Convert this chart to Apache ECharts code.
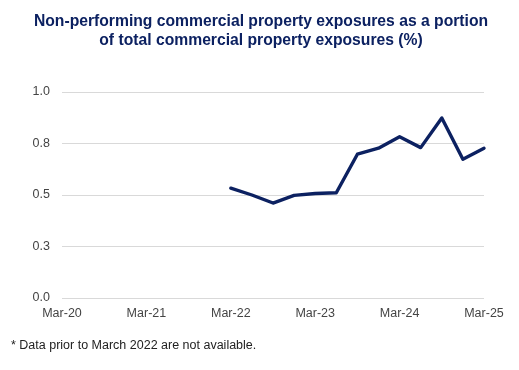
<!DOCTYPE html>
<html>
<head>
<meta charset="utf-8">
<script src="https://cdn.jsdelivr.net/npm/echarts@6/dist/echarts.min.js"></script>
<style>
html,body{margin:0;padding:0;background:#fff;}
#c{width:519px;height:370px;}
</style>
</head>
<body>
<div id="c"></div>
<script>
const categories = [
  "Mar-20","Jun-20","Sep-20","Dec-20",
  "Mar-21","Jun-21","Sep-21","Dec-21",
  "Mar-22","Jun-22","Sep-22","Dec-22",
  "Mar-23","Jun-23","Sep-23","Dec-23",
  "Mar-24","Jun-24","Sep-24","Dec-24",
  "Mar-25"
];
const npRatio = [
  null,null,null,null,
  null,null,null,null,
  0.533,0.500,0.461,0.498,
  0.507,0.511,0.698,0.727,
  0.783,0.730,0.874,0.674,
  0.727
];
const yTicks = { min: 0, max: 1, interval: 0.25 };

const chart = echarts.init(document.getElementById('c'), null, {renderer:'canvas'});
chart.setOption({
  animation: false,
  backgroundColor: '#ffffff',
  title: [{
    text: 'Non-performing commercial property exposures as a portion\nof total commercial property exposures (%)',
    left: 261, top: 12, textAlign: 'center', padding: 0,
    textStyle: { fontFamily: 'Liberation Sans, Arial, sans-serif', fontSize: 15.7, fontWeight: 'bold', color: '#0c2161', lineHeight: 19 }
  },{
    text: '* Data prior to March 2022 are not available.',
    left: 11, top: 339, padding: 0,
    textStyle: { fontFamily: 'Liberation Sans, Arial, sans-serif', fontSize: 12.5, fontWeight: 'normal', color: '#222222' }
  }],
  grid: { left: 62, right: 35, top: 92, bottom: 72, containLabel: false },
  xAxis: {
    type: 'category',
    data: categories,
    boundaryGap: false,
    axisLine: { show: false },
    axisTick: { show: false },
    splitLine: { show: false },
    axisLabel: {
      interval: 3, margin: 9,
      fontFamily: 'Liberation Sans, Arial, sans-serif', fontSize: 12.5, color: '#444444'
    }
  },
  yAxis: {
    type: 'value',
    min: yTicks.min, max: yTicks.max, interval: yTicks.interval,
    axisLine: { show: false },
    axisTick: { show: false },
    splitLine: { show: true, lineStyle: { color: '#d9d9d9', width: 1.2 } },
    axisLabel: {
      margin: 12,
      formatter: v => v.toFixed(1),
      fontFamily: 'Liberation Sans, Arial, sans-serif', fontSize: 12.5, color: '#444444'
    }
  },
  series: [{
    type: 'line',
    data: npRatio,
    showSymbol: false,
    symbol: 'none',
    connectNulls: false,
    lineStyle: { color: '#0c2161', width: 3.4, join: 'round', cap: 'round' }
  }]
});
</script>
</body>
</html>
